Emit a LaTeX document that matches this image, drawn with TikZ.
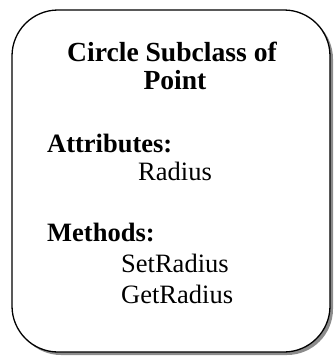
\documentclass[tikz,border=0pt]{standalone}
\usepackage{fontspec}
\setmainfont{Liberation Serif}
\usepackage{tikz}
\usetikzlibrary{positioning,shadows}
\definecolor{sombra}{HTML}{8C8C8C}

\begin{document}
\begin{tikzpicture}[
      x=1pt, y=-1pt,
      caixa/.style={draw=black,line width=1.3pt,rounded corners=46pt,fill=white,
        minimum width=318pt,minimum height=342pt,inner sep=0pt,
        drop shadow={shadow xshift=3pt,shadow yshift=-3pt,fill=sombra,opacity=1}},
      txt/.style={inner sep=0pt,font=\fontsize{26.5}{30}\selectfont},
      tit/.style={txt,font=\fontsize{26.5}{30}\selectfont\bfseries},
    ]
    \useasboundingbox (0,0) rectangle (333,356);
    \node[caixa] (classe) at (171,181) {};
  \node[tit,anchor=base,font=\fontsize{27.6}{30}\selectfont\bfseries] (titulo) at (172,61) {Circle Subclass of};
  \node[tit,anchor=base,font=\fontsize{27.6}{30}\selectfont\bfseries] (pai) at (175,89) {Point};
  \node[tit,anchor=base west] (atrib) at (47,152) {Attributes:};
  \node[txt,anchor=base west] (raio) at (138,180) {Radius};
  \node[tit,anchor=base west] (metod) at (47,241) {Methods:};
  \node[txt,anchor=base west] (setr) at (121,272) {SetRadius};
  \node[txt,anchor=base west] (getr) at (121,303) {GetRadius};
\end{tikzpicture}
\end{document}
